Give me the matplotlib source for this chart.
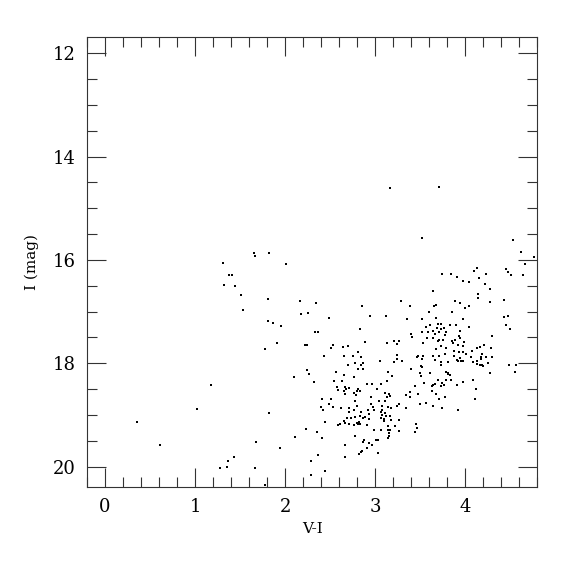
import matplotlib
matplotlib.use("Agg")
import matplotlib.pyplot as plt
from matplotlib.ticker import MultipleLocator

# V-I colour and I magnitude, read off the reference CMD
# blue / sparse stars on the left
vi_blue = [0.35, 0.61, 1.02, 1.18, 1.28, 1.355, 1.367, 1.43,
           1.307, 1.373, 1.41, 1.325, 1.448]
i_blue = [19.14, 19.59, 18.88, 18.42, 20.03, 20.01, 19.90, 19.81,
          16.06, 16.30, 16.29, 16.48, 16.50]

# bright / intermediate part (V-I ~ 1.5 - 2.5)
vi_mid = [1.659, 1.667, 1.818, 2.011, 1.514, 1.807, 2.167, 2.348, 1.533, 2.178,
          2.256, 2.489, 1.811, 1.87, 1.951, 2.333, 2.362, 1.911, 2.22, 2.24,
          1.773, 2.437,
          2.244, 2.262, 2.096, 2.326, 2.411, 2.484, 2.40, 2.426, 1.822, 2.44,
          2.237, 2.351, 2.114, 2.414, 1.673, 1.94, 2.362, 2.284, 1.662, 2.44,
          2.292, 1.773]
i_mid = [15.87, 15.92, 15.87, 16.07, 16.67, 16.75, 16.79, 16.84, 16.96, 17.05,
         17.03, 17.13, 17.18, 17.22, 17.27, 17.39, 17.40, 17.61, 17.64, 17.64,
         17.73, 17.85,
         18.12, 18.20, 18.27, 18.36, 18.70, 18.78, 18.85, 18.90, 18.97, 19.14,
         19.27, 19.33, 19.42, 19.45, 19.52, 19.64, 19.78, 19.89, 20.02, 20.08,
         20.16, 20.36]

# main clump, V-I ~ 2.5 - 3.4
vi_clump = [3.292, 2.859, 2.948, 3.122, 3.356, 2.826, 2.892, 3.133, 3.207, 3.259,
            3.24, 2.533, 2.511, 2.648, 2.696, 2.811, 2.659, 2.756, 2.844, 3.244,
            3.244,
            2.78, 2.86, 2.70, 2.84, 2.81, 2.86, 3.05, 3.21, 3.30, 2.57,
            2.65, 2.76, 2.54, 2.63, 2.58, 2.66, 2.68, 2.71, 2.59, 2.65,
            2.67, 3.14, 3.19, 3.13, 3.07, 2.91, 2.97, 2.81, 2.83, 2.80,
            3.02, 2.77, 2.79, 3.11, 3.15, 3.17, 3.34, 2.95, 3.04, 3.11,
            3.13, 2.51, 2.53, 2.62, 2.71, 2.78, 2.80, 2.76, 2.71, 2.84,
            2.95, 2.98, 2.99, 3.08, 3.08, 3.14, 3.18, 3.26, 3.24, 3.34,
            2.92, 2.93, 2.89, 2.86, 2.78, 2.83, 2.73, 2.69, 3.07, 3.08,
            3.06, 3.11, 3.12, 3.10, 3.10, 3.16, 3.18, 3.26, 3.22, 2.65,
            2.61, 2.59, 2.67, 2.71, 2.80, 2.82, 2.81, 2.83, 2.77, 2.91,
            2.93, 2.99, 3.06, 3.14, 3.14, 3.15, 3.17, 3.27, 3.14, 3.15,
            3.01, 3.03, 2.88, 2.87, 2.93, 2.96, 2.91, 2.85, 2.84, 2.82,
            3.03, 2.78, 2.67, 2.66, 3.39, 3.39]
i_clump = [16.79, 16.89, 17.08, 17.08, 17.15, 17.33, 17.59, 17.60, 17.56, 17.56,
           17.62, 17.64, 17.70, 17.69, 17.67, 17.78, 17.85, 17.85, 17.87, 17.84,
           17.91,
           18.00, 18.00, 18.04, 18.03, 18.11, 18.11, 17.95, 17.97, 17.95, 18.17,
           18.22, 18.27, 18.34, 18.34, 18.45, 18.46, 18.49, 18.48, 18.52, 18.53,
           18.59, 18.17, 18.24, 18.35, 18.40, 18.40, 18.40, 18.49, 18.53, 18.54,
           18.49, 18.58, 18.62, 18.58, 18.60, 18.63, 18.62, 18.65, 18.73, 18.73,
           18.65, 18.69, 18.85, 18.87, 18.87, 18.72, 18.82, 18.90, 18.94, 18.94,
           18.78, 18.85, 18.91, 18.83, 18.90, 18.84, 18.87, 18.78, 18.82, 18.87,
           18.91, 18.98, 19.04, 19.05, 19.04, 19.02, 19.05, 19.05, 18.94, 19.00,
           19.05, 18.96, 19.02, 19.07, 19.11, 19.02, 19.10, 19.09, 19.21, 19.11,
           19.18, 19.19, 19.16, 19.18, 19.16, 19.14, 19.17, 19.17, 19.20, 19.20,
           19.08, 19.30, 19.30, 19.22, 19.30, 19.34, 19.30, 19.31, 19.45, 19.40,
           19.48, 19.48, 19.49, 19.52, 19.54, 19.59, 19.64, 19.69, 19.72, 19.76,
           19.73, 19.40, 19.59, 19.81, 18.56, 18.66]

# red branch, V-I ~ 3.4 - 4.1
vi_red = [3.71, 3.52, 3.16,
          3.74, 3.84, 3.91, 3.97, 4.04, 3.64, 3.39, 3.655, 3.677, 3.89,
          3.94, 4.04, 3.855, 3.60, 3.52, 3.67, 3.97, 3.61, 3.56, 3.70,
          3.73, 3.76, 3.83, 3.69, 3.73, 3.64, 3.59, 3.71, 3.90, 3.94,
          3.40, 3.41, 3.52, 3.57, 3.66, 3.64, 3.77, 3.79, 3.71, 3.75,
          3.70, 3.85, 3.86, 3.93, 3.94, 3.89, 3.53, 3.73, 3.68, 3.79,
          3.92, 3.98, 4.04,
          3.87, 3.93, 3.97, 4.01, 3.77, 3.71, 3.64, 3.47, 3.46, 3.53,
          3.52, 3.66, 3.88, 3.94, 3.91, 3.95, 3.92, 3.97, 3.73, 3.73,
          3.81, 3.51, 3.52, 3.40, 3.50, 3.61, 3.79, 3.81, 3.83, 3.81,
          3.51, 3.70, 3.79, 3.84, 3.74, 3.76, 3.73, 3.64, 3.66, 3.63,
          3.54, 3.44, 3.91, 3.97, 3.63, 3.47, 3.67, 3.78, 3.71, 3.56,
          3.50, 3.64, 3.74, 3.92, 3.45, 3.46, 3.44]
i_red = [14.58, 15.57, 14.60,
         16.27, 16.27, 16.33, 16.40, 16.43, 16.60, 16.89, 16.90, 16.88, 16.79,
         16.84, 16.89, 17.00, 17.01, 17.15, 17.13, 17.14, 17.26, 17.29, 17.23,
         17.24, 17.31, 17.26, 17.32, 17.33, 17.38, 17.39, 17.39, 17.26, 17.38,
         17.44, 17.50, 17.40, 17.51, 17.44, 17.51, 17.46, 17.40, 17.55, 17.55,
         17.56, 17.57, 17.60, 17.47, 17.51, 17.55, 17.60, 17.66, 17.72, 17.71,
         17.64, 17.66, 17.29,
         17.76, 17.79, 17.79, 17.82, 17.82, 17.85, 17.85, 17.85, 17.88, 17.85,
         17.91, 17.93, 17.85, 17.89, 17.93, 17.96, 17.95, 17.96, 17.97, 18.04,
         17.98, 18.05, 18.08, 18.11, 18.18, 18.18, 18.17, 18.18, 18.22, 18.21,
         18.25, 18.33, 18.32, 18.32, 18.38, 18.41, 18.43, 18.41, 18.40, 18.43,
         18.39, 18.43, 18.41, 18.37, 18.53, 18.60, 18.60, 18.65, 18.69, 18.77,
         18.78, 18.82, 18.87, 18.91, 19.17, 19.26, 19.32]

# reddest stars, V-I > 4
vi_far = [4.53, 4.62, 4.76, 4.66, 4.45, 4.47, 4.51, 4.64, 4.13, 4.10,
          4.23, 4.15, 4.22, 4.28, 4.14, 4.14, 4.43, 4.27, 4.00, 4.43,
          4.48, 4.45, 4.50, 4.30, 3.99, 4.21, 4.13, 4.16, 4.29, 4.07,
          4.19, 4.18, 4.17, 4.23, 4.30, 4.06, 4.09, 4.13, 4.13, 4.16,
          4.20, 4.19, 4.25, 4.28, 4.49, 4.56, 4.55, 4.09, 4.12, 4.11]
i_far = [15.62, 15.84, 15.95, 16.08, 16.17, 16.23, 16.29, 16.30, 16.16, 16.22,
         16.27, 16.35, 16.47, 16.57, 16.66, 16.74, 16.77, 16.82, 16.93, 17.11,
         17.09, 17.25, 17.33, 17.47, 17.58, 17.64, 17.71, 17.69, 17.70, 17.76,
         17.82, 17.87, 17.91, 17.87, 17.87, 17.87, 17.98, 18.01, 17.96, 18.04,
         18.06, 18.03, 18.00, 18.18, 18.04, 18.03, 18.16, 18.33, 18.49, 18.69]

vi = vi_blue + vi_mid + vi_clump + vi_red + vi_far
mag = i_blue + i_mid + i_clump + i_red + i_far

plt.rcParams["font.family"] = "DejaVu Serif"

fig = plt.figure(figsize=(5.75, 5.75), dpi=100)
ax = fig.add_axes([0.1513, 0.1525, 0.7831, 0.7826])

ax.scatter(vi, mag, s=2.2, marker="s", c="k", linewidths=0)

ax.set_xlim(-0.2, 4.8)
ax.set_ylim(20.4, 11.69)
ax.xaxis.set_major_locator(MultipleLocator(1))
ax.xaxis.set_minor_locator(MultipleLocator(0.2))
ax.yaxis.set_major_locator(MultipleLocator(2))
ax.yaxis.set_minor_locator(MultipleLocator(0.5))

ax.tick_params(which="both", direction="in", top=True, right=True,
               color="#333333", width=0.8)
ax.tick_params(which="major", length=13.5, labelsize=13, pad=8)
ax.tick_params(which="minor", length=7)
for sp in ax.spines.values():
    sp.set_linewidth(0.8)
    sp.set_color("#333333")

ax.set_xlabel("V-I", fontsize=11, labelpad=4)
ax.set_ylabel("I (mag)", fontsize=11, labelpad=10)

fig.savefig("out.png", dpi=100)
